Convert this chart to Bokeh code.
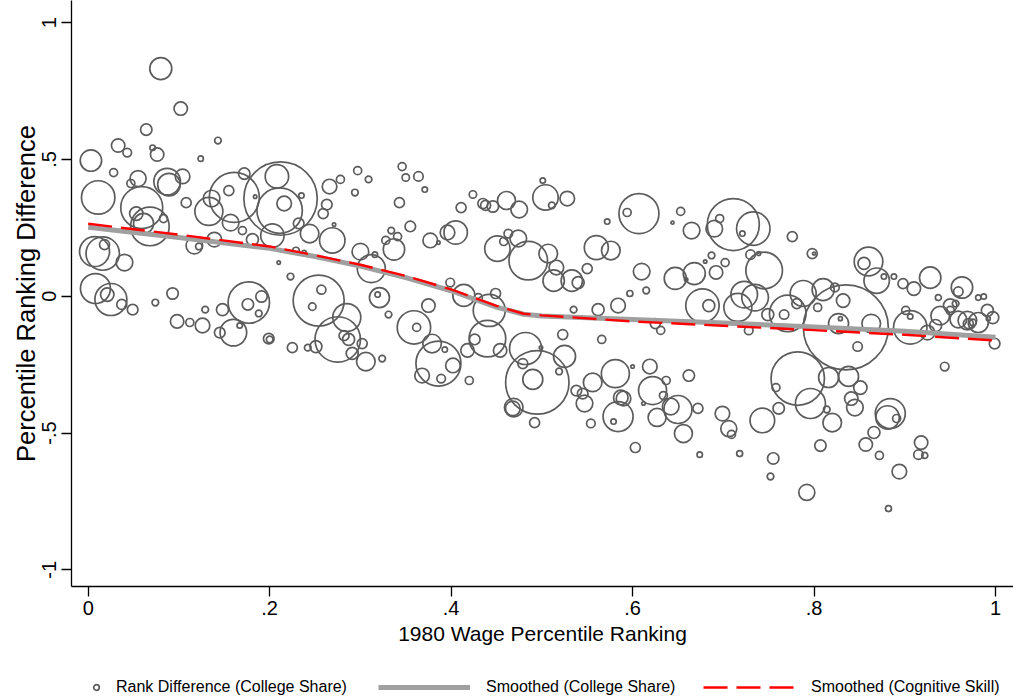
import numpy as np
from bokeh.plotting import figure
from bokeh.layouts import column
from bokeh.models import Range1d, FixedTicker, Legend, LegendItem, ColumnDataSource
from bokeh.embed import file_html
from bokeh.resources import INLINE

# 1980 wage percentile ranking of each occupation
wage_rank = [
    0.080, 0.102, 0.064, 0.033, 0.043, 0.071, 0.076, 0.143, 0.124, 0.003,
    0.028, 0.055, 0.047, 0.087, 0.089, 0.104, 0.011, 0.059, 0.053, 0.068,
    0.061, 0.083, 0.108, 0.155, 0.172, 0.136, 0.133, 0.161, 0.157, 0.170,
    0.184, 0.117, 0.122, 0.139, 0.181, 0.016, 0.007, 0.018, 0.040, 0.008,
    0.025, 0.021, 0.037, 0.049, 0.074, 0.093, 0.098, 0.112, 0.126, 0.129,
    0.148, 0.160, 0.145, 0.167, 0.177, 0.176, 0.191, 0.188, 0.199, 0.200,
    0.212, 0.208, 0.216, 0.211, 0.235, 0.232, 0.203, 0.244, 0.269, 0.266,
    0.278, 0.263, 0.259, 0.271, 0.297, 0.309, 0.294, 0.346, 0.350, 0.364,
    0.371, 0.343, 0.355, 0.334, 0.341, 0.328, 0.337, 0.377, 0.386, 0.300,
    0.316, 0.312, 0.229, 0.238, 0.210, 0.223, 0.254, 0.257, 0.247, 0.285,
    0.275, 0.282, 0.287, 0.302, 0.291, 0.306, 0.324, 0.251, 0.242, 0.225,
    0.321, 0.319, 0.331, 0.359, 0.362, 0.375, 0.379, 0.386, 0.368, 0.389,
    0.501, 0.504, 0.511, 0.528, 0.424, 0.411, 0.435, 0.438, 0.446, 0.461,
    0.475, 0.396, 0.405, 0.451, 0.463, 0.458, 0.474, 0.485, 0.507, 0.516,
    0.513, 0.533, 0.540, 0.550, 0.572, 0.560, 0.576, 0.399, 0.414, 0.430,
    0.449, 0.442, 0.440, 0.426, 0.418, 0.454, 0.402, 0.393, 0.420, 0.482,
    0.479, 0.495, 0.490, 0.469, 0.468, 0.492, 0.499, 0.525, 0.519, 0.523,
    0.535, 0.562, 0.584, 0.566, 0.538, 0.545, 0.547, 0.556, 0.581, 0.554,
    0.587, 0.584, 0.579, 0.607, 0.594, 0.653, 0.644, 0.665, 0.711, 0.690,
    0.696, 0.733, 0.721, 0.776, 0.610, 0.687, 0.680, 0.702, 0.692, 0.668,
    0.647, 0.659, 0.730, 0.739, 0.745, 0.597, 0.615, 0.677, 0.684, 0.716,
    0.723, 0.735, 0.749, 0.767, 0.771, 0.781, 0.728, 0.625, 0.631, 0.600,
    0.619, 0.662, 0.637, 0.622, 0.590, 0.634, 0.612, 0.650, 0.642, 0.627,
    0.672, 0.656, 0.699, 0.706, 0.709, 0.743, 0.761, 0.758, 0.782, 0.603,
    0.674, 0.718, 0.755, 0.752, 0.792, 0.798, 0.800, 0.860, 0.855, 0.869,
    0.877, 0.888, 0.898, 0.910, 0.928, 0.963, 0.959, 0.937, 0.981, 0.987,
    0.810, 0.823, 0.835, 0.788, 0.832, 0.827, 0.829, 0.863, 0.848, 0.804,
    0.901, 0.906, 0.906, 0.925, 0.934, 0.939, 0.950, 0.956, 0.950, 0.959,
    0.969, 0.981, 0.970, 0.975, 0.991, 0.997, 0.992, 0.999, 0.944, 0.796,
    0.816, 0.838, 0.851, 0.841, 0.845, 0.814, 0.820, 0.884, 0.881, 0.891,
    0.866, 0.857, 0.807, 0.872, 0.918, 0.915, 0.922, 0.894, 0.882,
]

# rank difference (college share)
rank_diff = [
    0.832, 0.686, 0.609, 0.551, 0.525, 0.543, 0.518, 0.569, 0.503, 0.496,
    0.452, 0.430, 0.412, 0.419, 0.408, 0.438, 0.361, 0.324, 0.302, 0.255,
    0.266, 0.284, 0.342, 0.386, 0.448, 0.357, 0.310, 0.361, 0.269, 0.240,
    0.364, 0.185, 0.182, 0.207, 0.207, 0.156, 0.163, 0.189, 0.123, 0.028,
    -0.012, 0.006, -0.030, -0.049, -0.023, 0.010, -0.092, -0.096, -0.107, -0.049,
    -0.049, -0.133, -0.133, -0.107, -0.023, -0.030, -0.001, -0.063, -0.155, -0.158,
    0.357, 0.438, 0.339, 0.313, 0.368, 0.266, 0.222, 0.229, 0.204, 0.401,
    0.427, 0.335, 0.302, 0.262, 0.459, 0.427, 0.379, 0.474, 0.434, 0.438,
    0.390, 0.342, 0.255, 0.240, 0.218, 0.204, 0.171, 0.204, 0.196, 0.163,
    0.152, 0.101, 0.167, 0.160, 0.123, 0.072, -0.016, 0.024, -0.038, -0.078,
    -0.158, -0.144, -0.158, -0.173, -0.209, -0.239, -0.228, -0.184, -0.188, -0.188,
    -0.005, 0.006, -0.067, -0.114, -0.114, -0.034, -0.173, -0.246, -0.290, -0.301,
    0.423, 0.361, 0.332, 0.357, 0.372, 0.324, 0.339, 0.332, 0.328, 0.350,
    0.317, 0.233, 0.233, 0.174, 0.229, 0.200, 0.211, 0.130, 0.156, 0.105,
    0.057, 0.057, 0.050, 0.101, 0.273, 0.178, 0.167, 0.050, 0.003, -0.005,
    0.010, -0.052, -0.155, -0.158, -0.198, -0.198, -0.253, -0.195, -0.308, -0.191,
    -0.246, -0.315, -0.304, -0.407, -0.410, -0.462, -0.188, -0.220, -0.275, -0.140,
    -0.049, -0.049, -0.034, -0.158, -0.345, -0.356, -0.392, -0.315, -0.283, -0.465,
    -0.370, -0.440, -0.458, 0.302, 0.306, 0.310, 0.269, 0.240, 0.262, 0.247,
    0.284, 0.247, 0.229, 0.218, 0.090, 0.149, 0.127, 0.123, 0.087, 0.083,
    0.065, 0.061, 0.152, 0.156, 0.094, 0.010, 0.021, -0.034, -0.034, -0.041,
    0.006, -0.005, -0.067, -0.067, -0.063, -0.027, -0.125, -0.100, -0.125, -0.257,
    -0.257, -0.290, -0.308, -0.345, -0.374, -0.363, -0.392, -0.414, -0.403, -0.443,
    -0.410, -0.502, -0.429, -0.484, -0.505, -0.454, -0.410, -0.334, -0.301, -0.553,
    -0.579, -0.575, -0.593, -0.659, -0.717, 0.156, 0.156, 0.127, 0.120, 0.057,
    0.072, 0.072, 0.046, 0.028, 0.068, 0.032, 0.017, -0.005, -0.005, -0.001,
    0.024, 0.032, -0.114, 0.010, -0.016, -0.100, -0.082, -0.100, -0.184, -0.041,
    -0.052, -0.114, -0.074, -0.133, -0.107, -0.071, -0.034, -0.027, -0.052, -0.085,
    -0.089, -0.096, -0.100, -0.096, -0.052, -0.078, -0.082, -0.173, -0.257, -0.392,
    -0.297, -0.293, -0.334, -0.374, -0.407, -0.414, -0.462, -0.429, -0.443, -0.447,
    -0.498, -0.542, -0.546, -0.582, -0.535, -0.579, -0.582, -0.641, -0.776,
]

# employment weight of each occupation (relative)
emp_weight = [
    1.210, 0.449, 0.325, 0.449, 0.185, 0.073, 0.449, 0.109, 0.073, 1.145,
    0.160, 0.640, 0.160, 1.769, 1.277, 0.533, 2.789, 4.410, 0.449, 3.725,
    1.000, 0.160, 0.250, 0.250, 0.325, 0.689, 1.960, 6.250, 0.689, 0.160,
    0.029, 0.689, 0.109, 0.533, 0.360, 2.789, 2.250, 0.250, 0.689, 2.250,
    2.560, 0.449, 0.250, 0.281, 0.109, 0.325, 0.449, 0.160, 0.533, 0.109,
    0.360, 1.769, 0.281, 0.073, 4.285, 0.325, 0.325, 0.109, 0.281, 0.109,
    13.469, 1.369, 0.533, 5.153, 0.073, 0.281, 1.369, 0.865, 1.613, 0.533,
    0.160, 0.281, 0.250, 0.029, 0.160, 0.109, 0.109, 0.160, 0.137, 0.221,
    0.073, 0.250, 0.281, 0.109, 0.160, 0.160, 1.145, 0.533, 0.029, 0.689,
    0.073, 1.960, 0.109, 0.040, 0.029, 0.109, 6.503, 0.203, 0.137, 1.960,
    5.153, 0.250, 0.360, 0.250, 0.360, 0.865, 0.109, 0.360, 0.109, 0.250,
    1.000, 0.073, 0.109, 2.789, 0.160, 0.449, 0.865, 5.063, 0.533, 0.185,
    0.073, 1.613, 0.109, 0.533, 0.137, 0.250, 0.250, 0.250, 0.325, 0.810,
    0.689, 0.533, 1.369, 1.613, 0.185, 0.160, 0.689, 3.725, 0.865, 0.533,
    1.145, 1.145, 0.360, 0.250, 0.073, 1.440, 0.865, 0.185, 1.210, 0.160,
    0.250, 2.560, 3.349, 0.281, 0.449, 0.449, 0.533, 0.073, 0.160, 2.560,
    0.250, 10.049, 1.000, 0.865, 0.533, 0.250, 0.029, 1.210, 0.109, 0.250,
    0.109, 0.360, 0.533, 0.160, 0.281, 0.281, 0.689, 0.865, 1.960, 0.185,
    0.533, 2.250, 0.073, 4.000, 0.160, 0.160, 0.023, 0.689, 6.760, 0.689,
    0.160, 2.789, 0.073, 0.250, 0.689, 0.109, 0.029, 0.160, 0.449, 1.210,
    1.210, 0.029, 0.221, 0.040, 3.349, 0.090, 0.109, 2.789, 0.360, 1.960,
    1.769, 1.769, 0.360, 0.221, 3.349, 0.250, 0.185, 0.250, 0.160, 0.029,
    0.533, 0.325, 0.160, 1.960, 0.533, 0.160, 0.029, 1.960, 0.689, 0.810,
    0.250, 0.810, 0.533, 0.640, 0.160, 1.513, 0.325, 0.160, 7.129, 0.250,
    0.073, 0.090, 0.325, 0.109, 0.640, 0.250, 0.023, 2.045, 0.360, 1.613,
    0.073, 0.073, 0.250, 0.449, 1.145, 1.145, 0.221, 0.090, 0.073, 0.073,
    1.210, 0.185, 18.063, 1.690, 0.449, 1.000, 0.040, 0.865, 0.221, 0.160,
    0.160, 2.789, 0.073, 0.533, 0.360, 0.865, 0.449, 0.109, 0.160, 0.689,
    0.865, 1.000, 0.250, 0.109, 0.360, 0.360, 0.040, 0.281, 0.185, 2.250,
    1.000, 1.000, 0.449, 0.449, 0.689, 0.109, 0.865, 2.250, 1.369, 0.160,
    0.360, 0.449, 0.325, 0.160, 0.449, 0.221, 0.090, 0.533, 0.090,
]

# smoothed (lowess) curves
smooth_x = [0.0, 0.1, 0.2, 0.25, 0.3, 0.35, 0.4, 0.45, 0.48, 0.5, 0.6, 0.7, 0.8, 0.9, 1.0]
smooth_college = [0.252, 0.215, 0.175, 0.145, 0.110, 0.068, 0.020, -0.040, -0.066, -0.072,
                  -0.085, -0.098, -0.112, -0.128, -0.150]
smooth_cognitive = [0.265, 0.225, 0.182, 0.150, 0.115, 0.074, 0.025, -0.035, -0.064, -0.070,
                    -0.092, -0.108, -0.124, -0.141, -0.162]

x_ticks = [0, 0.2, 0.4, 0.6, 0.8, 1]
x_tick_labels = ["0", ".2", ".4", ".6", ".8", "1"]
y_ticks = [-1, -0.5, 0, 0.5, 1]
y_tick_labels = ["-1", "-.5", "0", ".5", "1"]

legend_labels = ["Rank Difference (College Share)", "Smoothed (College Share)",
                 "Smoothed (Cognitive Skill)"]

FONT = "Liberation Sans"
MARKER_COLOR = "#5c5c5c"
GRAY_LINE = "#a0a0a0"
RED_LINE = "#ff0000"

p = figure(width=1013, height=656, output_backend="svg", toolbar_location=None,
           x_range=Range1d(-0.0184, 1.0198), y_range=Range1d(-1.061, 1.081),
           min_border_left=71, min_border_right=0, min_border_top=0, min_border_bottom=70,
           background_fill_color="white", border_fill_color="white")
p.outline_line_color = None
p.xgrid.visible = False
p.ygrid.visible = False

src = ColumnDataSource(dict(x=wage_rank, y=rank_diff,
                            s=[20.0 * np.sqrt(w) for w in emp_weight]))
p.scatter("x", "y", size="s", source=src, marker="circle", fill_color=None,
          line_color=MARKER_COLOR, line_width=1.7)

p.line(smooth_x, smooth_college, line_color=GRAY_LINE, line_width=5)
p.line(smooth_x, smooth_cognitive, line_color=RED_LINE, line_width=2.4, line_dash="24 9")

# axes
p.xaxis.ticker = FixedTicker(ticks=x_ticks)
p.xaxis.major_label_overrides = {t: l for t, l in zip(x_ticks, x_tick_labels)}
p.yaxis.ticker = FixedTicker(ticks=y_ticks)
p.yaxis.major_label_overrides = {t: l for t, l in zip(y_ticks, y_tick_labels)}
p.xaxis.axis_label = "1980 Wage Percentile Ranking"
p.yaxis.axis_label = "Percentile Ranking Difference"
p.yaxis.major_label_orientation = "vertical"
for ax in (p.xaxis, p.yaxis):
    ax.axis_line_color = "black"
    ax.axis_line_width = 1.3
    ax.major_tick_line_color = "black"
    ax.major_tick_line_width = 1.3
    ax.major_tick_out = 10
    ax.major_tick_in = 0
    ax.minor_tick_out = 0
    ax.minor_tick_in = 0
    ax.major_label_text_font = FONT
    ax.major_label_text_font_size = "20px"
    ax.major_label_text_color = "black"
    ax.axis_label_text_font = FONT
    ax.axis_label_text_font_style = "normal"
    ax.axis_label_text_color = "black"
p.xaxis.axis_label_text_font_size = "21px"
p.yaxis.axis_label_text_font_size = "25.5px"
p.xaxis.major_label_standoff = 4
p.xaxis.axis_label_standoff = 4
p.yaxis.major_label_standoff = 5
p.yaxis.axis_label_standoff = 0

# legend strip below the chart (its frame is aligned with the chart frame, left = 71px)
leg = figure(width=1013, height=44, output_backend="svg", toolbar_location=None,
             x_range=Range1d(0, 1), y_range=Range1d(0, 1),
             x_axis_type=None, y_axis_type=None,
             min_border_left=0, min_border_right=0, min_border_top=0, min_border_bottom=0,
             background_fill_color="white", border_fill_color="white")
leg.outline_line_color = None
# swatch renderers (no visible data: NaN positions)
sw_marker = leg.scatter([np.nan], [np.nan], size=8, marker="circle", fill_color=None,
                        line_color=MARKER_COLOR, line_width=1.7)
sw_college = leg.line([np.nan, np.nan], [np.nan, np.nan], line_color=GRAY_LINE, line_width=5)
sw_cog = leg.line([np.nan, np.nan], [np.nan, np.nan], line_color=RED_LINE, line_width=2.4,
                  line_dash="24 9")


def make_legend(label, renderer, gx, gw, standoff):
    lg = Legend(items=[LegendItem(label=label, renderers=[renderer])],
                location=(gx, 4), orientation="horizontal",
                glyph_width=gw, glyph_height=16, label_height=16,
                label_standoff=standoff, padding=0, margin=0, spacing=0,
                border_line_color=None, background_fill_alpha=0,
                label_text_font=FONT, label_text_font_size="16px",
                label_text_color="black")
    leg.add_layout(lg, "center")


make_legend(legend_labels[0], sw_marker, 18, 14, 13)
make_legend(legend_labels[1], sw_college, 307, 92, 16)
make_legend(legend_labels[2], sw_cog, 632, 91, 17)

layout = column(p, leg, spacing=0)
open("out.html", "w").write(file_html(layout, INLINE))
